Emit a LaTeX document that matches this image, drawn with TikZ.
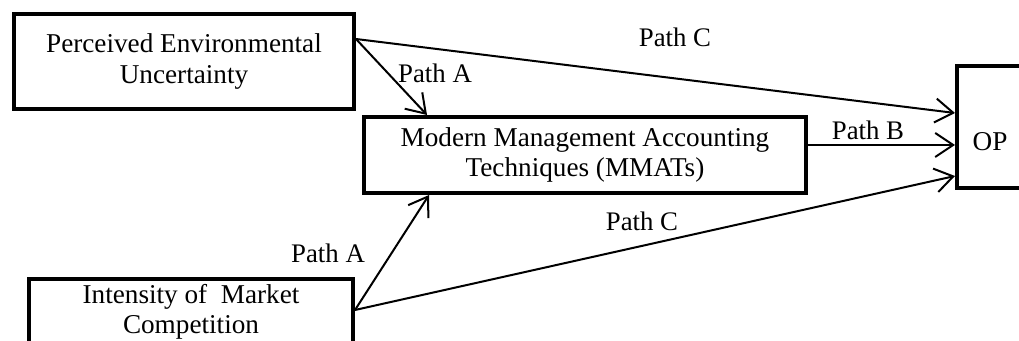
\documentclass[tikz,border=0pt]{standalone}
\usepackage{fontspec}
\setmainfont{Liberation Serif}
\usetikzlibrary{arrows.meta}
\usetikzlibrary{positioning}

\tikzset{
    varbox/.style={draw, line width=2pt, align=center, inner sep=0pt,
        font=\fontsize{13.6}{15.2}\selectfont},
    link/.style={-{Straight Barb[length=9pt, width=12pt]}, line width=1pt},
    pathlabel/.style={inner sep=0pt, font=\fontsize{13.4}{15}\selectfont}
}

\begin{document}
\begin{tikzpicture}[x=0.5pt, y=-0.5pt]
    \useasboundingbox (0,0) rectangle (1019,341);

    % Variable boxes
    \node[varbox, minimum width=170pt, minimum height=47.5pt] (peu) at (184, 61.5)
        {Perceived Environmental\\Uncertainty};
    \node[varbox, minimum width=221pt, minimum height=38pt] (mmat) at (585, 155)
        {Modern Management Accounting\\Techniques (MMATs)};
    \node[varbox, minimum width=162pt, minimum height=33pt] (imc) at (191, 312)
        {Intensity of~ Market\\Competition};
    \node[varbox, minimum width=33pt, minimum height=61pt,
        text height=24pt, text depth=0pt] (op) at (990, 127) {OP};

    % Paths between the variables
    \draw[link] ([yshift=11.25pt]peu.east) -- ([yshift=7pt]op.west);
    \draw[link] ([yshift=11.25pt]peu.east) -- ([xshift=-79pt]mmat.north);
    \draw[link] ([yshift=5pt]mmat.east) -- ([yshift=-9pt]op.west);
    \draw[link] ([yshift=1pt]imc.east) -- ([xshift=-78pt]mmat.south);
    \draw[link] ([yshift=1pt]imc.east) -- ([yshift=-24.5pt]op.west);

    % Path labels
    \foreach \lbl/\px/\py [count=\i] in {
        Path C/675/37,
        Path A/435/73,
        Path B/868/130,
        Path C/642/221,
        Path A/328/253
    } {
        \node[pathlabel] (lbl\i) at (\px, \py) {\lbl};
    }
\end{tikzpicture}
\end{document}
